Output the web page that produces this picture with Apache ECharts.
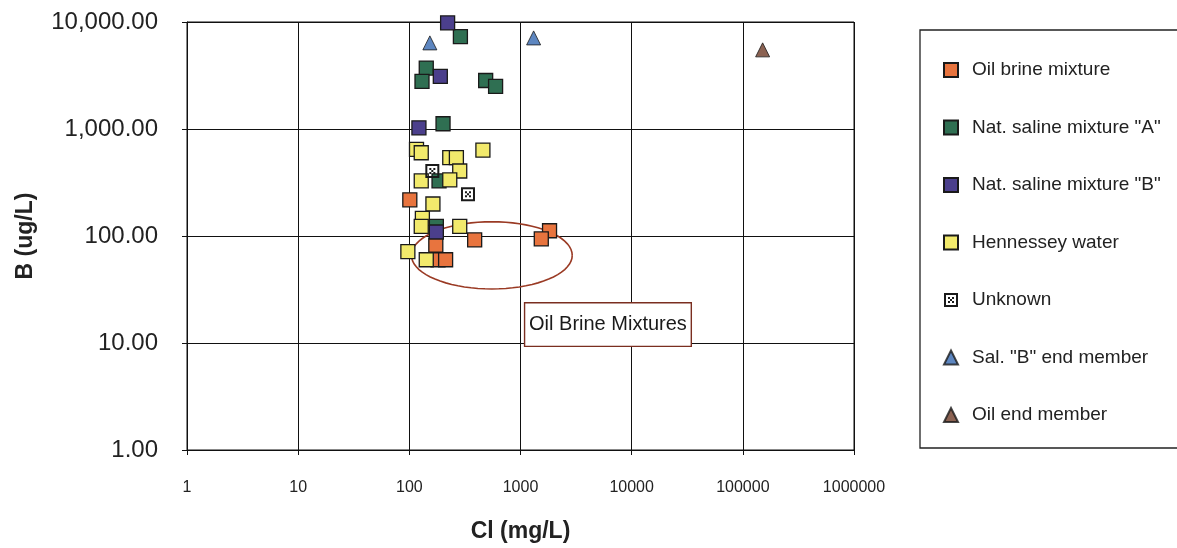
<!DOCTYPE html>
<html><head><meta charset="utf-8">
<script src="https://cdn.jsdelivr.net/npm/echarts@6/dist/echarts.min.js"></script>
<style>html,body{margin:0;padding:0;background:#fff}#c{width:1177px;height:548px}</style>
</head><body><div id="c"></div>
<script>
// ---- data (Cl mg/L, B ug/L) ----
const oilBrineCl = [101, 387, 173, 181, 212, 1825, 1538];
const oilBrineB  = [218, 92, 82, 60, 60, 112, 94];
const natACl = [288, 142, 130, 486, 597, 201, 185, 175];
const natAB  = [7300, 3710, 2790, 2840, 2500, 1120, 327, 123];
const natBCl = [221, 190, 122, 175];
const natBB  = [9800, 3100, 1025, 109];
const henCl = [116, 128, 459, 231, 265, 284, 128, 231, 163, 131, 128, 284, 97, 142];
const henB  = [645, 600, 635, 540, 540, 405, 327, 334, 199, 146, 123, 123, 71.5, 60];
const unkCl = [161, 337];
const unkB  = [405, 246];
const salBCl = [153, 1312];
const salBB  = [6380, 7100];
const oilEndCl = [150700];
const oilEndB  = [5490];
const xTicks = [1, 10, 100, 1000, 10000, 100000, 1000000];
const yTicks = [1, 10, 100, 1000, 10000];
// annotation (data space)
const ellipseBox = {x1: 104.5, x2: 2920, y1: 32, y2: 136};
const labelBox = {x1: 1088, x2: 34400, y1: 9.3, y2: 23.8, text: 'Oil Brine Mixtures'};

const zip = (a, b) => a.map((v, i) => [v, b[i]]);
const FONT = '"Liberation Sans", Arial, sans-serif';
const unkPath = 'path://M0,0 H14 V14 H0 Z M2,2 V12 H12 V2 Z M4,4 H6 V6 H4 Z M8,4 H10 V6 H8 Z M4,8 H6 V10 H4 Z M8,8 H10 V10 H8 Z M6,6 H8 V8 H6 Z';

function sq(name, data, color, sym) {
  return {
    name, type: 'scatter', data, symbol: sym || 'rect', symbolSize: 14,
    itemStyle: {color, borderColor: '#1a1a1a', borderWidth: sym ? 0 : 1.3, opacity: 1},
    emphasis: {disabled: true}
  };
}
const chart = echarts.init(document.getElementById('c'));
const option = {
  animation: false,
  backgroundColor: '#fff',
  grid: {left: 187, right: 323, top: 22, bottom: 96, show: true, borderColor: '#111', borderWidth: 1},
  xAxis: {
    type: 'log', logBase: 10, min: 1, max: 1000000,
    name: 'Cl (mg/L)', nameLocation: 'middle', nameGap: 70,
    nameTextStyle: {fontFamily: FONT, fontSize: 23, fontWeight: 'bold', color: '#222'},
    axisLine: {lineStyle: {color: '#111'}},
    axisTick: {show: true, length: 5, lineStyle: {color: '#111'}},
    axisLabel: {fontFamily: FONT, fontSize: 16, color: '#222', margin: 30,
      formatter: v => String(Math.round(v))},
    splitLine: {show: true, lineStyle: {color: '#111', width: 1}},
    minorTick: {show: false}
  },
  yAxis: {
    type: 'log', logBase: 10, min: 1, max: 10000,
    name: 'B (ug/L)', nameLocation: 'middle', nameGap: 150, nameRotate: 90,
    nameTextStyle: {fontFamily: FONT, fontSize: 23, fontWeight: 'bold', color: '#222'},
    axisLine: {lineStyle: {color: '#111'}},
    axisTick: {show: true, length: 5, inside: false, lineStyle: {color: '#111'}},
    axisLabel: {fontFamily: FONT, fontSize: 24, color: '#222', margin: 29,
      formatter: v => Number(v).toLocaleString('en-US', {minimumFractionDigits: 2, maximumFractionDigits: 2})},
    splitLine: {show: true, lineStyle: {color: '#111', width: 1}}
  },
  legend: {
    orient: 'vertical', left: 938, top: 54, itemGap: 35.5, itemWidth: 14, itemHeight: 14,
    textStyle: {fontFamily: FONT, fontSize: 19, color: '#222', padding: [0, 0, 0, 9], lineHeight: 22},
    selectedMode: false
  },
  series: [
    sq('Oil brine mixture', zip(oilBrineCl, oilBrineB), '#e8743e'),
    sq('Nat. saline mixture "A"', zip(natACl, natAB), '#2f6f52'),
    sq('Nat. saline mixture "B"', zip(natBCl, natBB), '#4b3f8c'),
    sq('Hennessey water', zip(henCl, henB), '#f2ea6c'),
    sq('Unknown', zip(unkCl, unkB), '#1a1a1a', unkPath),
    {name: 'Sal. "B" end member', type: 'scatter', data: zip(salBCl, salBB), symbol: 'triangle', symbolSize: 14,
      itemStyle: {color: '#3568b0', borderColor: '#1a1a1a', borderWidth: 1}},
    {name: 'Oil end member', type: 'scatter', data: zip(oilEndCl, oilEndB), symbol: 'triangle', symbolSize: 14,
      itemStyle: {color: '#6e3b27', borderColor: '#1a1a1a', borderWidth: 1}}
  ]
};
chart.setOption(option);

function px(x, y) { return chart.convertToPixel({gridIndex: 0}, [x, y]); }
const a = px(ellipseBox.x1, ellipseBox.y2), b = px(ellipseBox.x2, ellipseBox.y1);
const cx = (a[0] + b[0]) / 2, cy = (a[1] + b[1]) / 2, rx = (b[0] - a[0]) / 2, ry = (b[1] - a[1]) / 2;
const pts = [];
for (let i = 0; i <= 72; i++) { const t = i / 72 * Math.PI * 2; pts.push([cx + rx * Math.cos(t), cy + ry * Math.sin(t)]); }
const l1 = px(labelBox.x1, labelBox.y2), l2 = px(labelBox.x2, labelBox.y1);
chart.setOption({
  graphic: [
    {type: 'polyline', shape: {points: pts, smooth: 0}, style: {stroke: '#9a3a24', lineWidth: 1.6, fill: null}, z: 1, silent: true},
    {type: 'rect', shape: {x: l1[0], y: l1[1], width: l2[0] - l1[0], height: l2[1] - l1[1]},
      style: {fill: '#fff', stroke: '#7a2e20', lineWidth: 1.4}, z: 10},
    {type: 'text', x: (l1[0] + l2[0]) / 2, y: (l1[1] + l2[1]) / 2,
      style: {text: labelBox.text, font: '20px ' + FONT, fill: '#1a1a1a', align: 'center', verticalAlign: 'middle'}, z: 11},
    {type: 'rect', shape: {x: 920, y: 30, width: 280, height: 418}, style: {fill: null, stroke: '#222', lineWidth: 1.3}, z: 0}
  ]
});
</script>
</body></html>
